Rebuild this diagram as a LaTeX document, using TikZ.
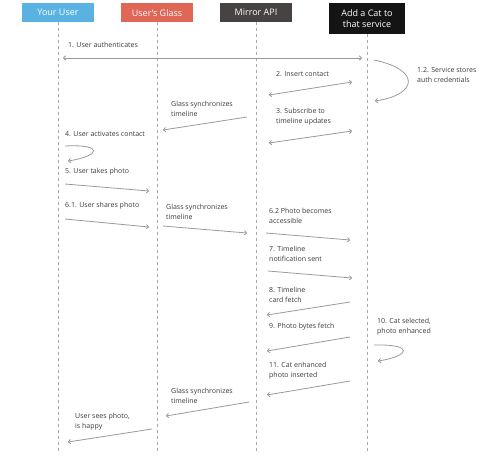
\documentclass[tikz,border=0pt]{standalone}
\usepackage{fontspec}
\setmainfont{Open Sans}
\usetikzlibrary{arrows.meta}
\definecolor{cuser}{HTML}{5AB2E2}
\definecolor{cglass}{HTML}{E06656}
\definecolor{cmirror}{HTML}{474343}
\definecolor{ccat}{HTML}{141414}
\definecolor{ctext}{HTML}{3A3A3A}
\definecolor{cline}{HTML}{999999}
\tikzset{
  hdr/.style={text=white, font=\fontsize{9}{10.5}\selectfont, minimum width=72pt, minimum height=19pt, inner sep=1pt, align=center, anchor=north},
  lifeline/.style={draw=cline!85, line width=0.6pt, dash pattern=on 3pt off 3pt},
  msg/.style={draw=cline, line width=0.8pt, -{To[length=3pt,width=5pt]}},
  dmsg/.style={draw=cline, line width=0.8pt, {To[length=3pt,width=5pt]}-{To[length=3pt,width=5pt]}},
  lbl/.style={text=ctext, font=\fontsize{7}{10}\selectfont, anchor=west, align=left, inner sep=0pt}
}
\begin{document}
\begin{tikzpicture}[x=1pt,y=-1pt]
\useasboundingbox (0,0) rectangle (500,456);
% headers
\node[hdr, fill=cuser] (hu) at (58,3) {Your User};
\node[hdr, fill=cglass] (hg) at (157,3) {User's Glass};
\node[hdr, fill=cmirror] (hm) at (256,3) {Mirror API};
\node[hdr, fill=ccat, minimum width=76pt, minimum height=31pt] (hc) at (367,3) {Add a Cat to\\that service};
% lifeline ends
\coordinate (eu) at (58,452);
\coordinate (eg) at (157,452);
\coordinate (em) at (256,452);
\coordinate (ec) at (367,452);
\draw[lifeline] (hu.south) -- (eu);
\draw[lifeline] (hg.south) -- (eg);
\draw[lifeline] (hm.south) -- (em);
\draw[lifeline] (hc.south) -- (ec);
% 1
\node[lbl] (l1) at (68,45) {1. User authenticates};
\coordinate (a1s) at (63,58); \coordinate (a1e) at (362,58);
\draw[dmsg] (a1s) -- (a1e);
% 1.2
\node[lbl] (l12) at (417,75) {1.2. Service stores\\auth credentials};
\coordinate (a12s) at (374,60); \coordinate (a12e) at (375,101);
\draw[msg] (a12s) .. controls (422,70) and (417,95) .. (a12e);
% 2
\node[lbl] (l2) at (276,74) {2. Insert contact};
\coordinate (a2s) at (269,95); \coordinate (a2e) at (352,82);
\draw[dmsg] (a2s) -- (a2e);
% 3
\node[lbl] (l3) at (276,117) {3. Subscribe to\\timeline updates};
\coordinate (a3s) at (269,143); \coordinate (a3e) at (352,131);
\draw[dmsg] (a3s) -- (a3e);
% glass sync 1
\node[lbl] (g1) at (171,109) {Glass synchronizes\\timeline};
\coordinate (b1s) at (247,117); \coordinate (b1e) at (163,130);
\draw[msg] (b1s) -- (b1e);
% 4
\node[lbl] (l4) at (65,134) {4. User activates contact};
\coordinate (a4s) at (65,146); \coordinate (a4e) at (68,161);
\draw[msg] (a4s) .. controls (105,144) and (100,156) .. (a4e);
% 5
\node[lbl] (l5) at (65,172) {5. User takes photo};
\coordinate (a5s) at (65,184); \coordinate (a5e) at (149,191);
\draw[msg] (a5s) -- (a5e);
% 6.1
\node[lbl] (l61) at (65,206) {6.1. User shares photo};
\coordinate (a61s) at (65,219); \coordinate (a61e) at (149,227);
\draw[msg] (a61s) -- (a61e);
% glass sync 2
\node[lbl] (g2) at (166,212) {Glass synchronizes\\timeline};
\coordinate (b2s) at (163,226); \coordinate (b2e) at (247,233);
\draw[msg] (b2s) -- (b2e);
% 6.2
\node[lbl] (l62) at (269,216) {6.2 Photo becomes\\accessible};
\coordinate (a62s) at (266,233); \coordinate (a62e) at (350,240);
\draw[msg] (a62s) -- (a62e);
% 7
\node[lbl] (l7) at (269,254) {7. Timeline\\notification sent};
\coordinate (a7s) at (268,271); \coordinate (a7e) at (352,278);
\draw[msg] (a7s) -- (a7e);
% 8
\node[lbl] (l8) at (269,295) {8. Timeline\\card fetch};
\coordinate (a8s) at (350,302); \coordinate (a8e) at (267,315);
\draw[msg] (a8s) -- (a8e);
% 9
\node[lbl] (l9) at (269,327) {9. Photo bytes fetch};
\coordinate (a9s) at (350,337); \coordinate (a9e) at (267,351);
\draw[msg] (a9s) -- (a9e);
% 10
\node[lbl] (l10) at (377,327) {10. Cat selected,\\photo enhanced};
\coordinate (a10s) at (374,345); \coordinate (a10e) at (378,361);
\draw[msg] (a10s) .. controls (415,344) and (410,356) .. (a10e);
% 11
\node[lbl] (l11) at (269,371) {11. Cat enhanced\\photo inserted};
\coordinate (a11s) at (350,381); \coordinate (a11e) at (267,395);
\draw[msg] (a11s) -- (a11e);
% glass sync 3
\node[lbl] (g3) at (171,396) {Glass synchronizes\\timeline};
\coordinate (b3s) at (249,402); \coordinate (b3e) at (166,416);
\draw[msg] (b3s) -- (b3e);
% user sees photo
\node[lbl] (l12b) at (75,422) {User sees photo,\\is happy};
\coordinate (a13s) at (152,429); \coordinate (a13e) at (68,442);
\draw[msg] (a13s) -- (a13e);
\end{tikzpicture}
\end{document}
